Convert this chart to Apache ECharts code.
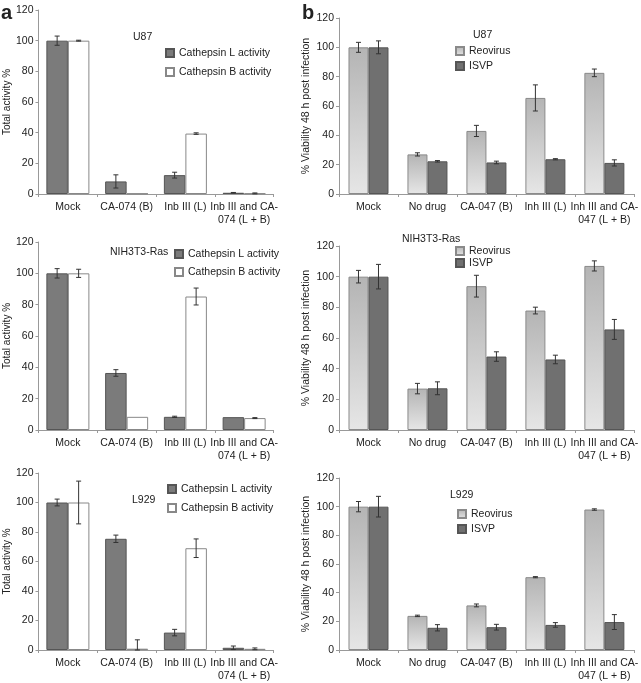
<!DOCTYPE html>
<html>
<head>
<meta charset="utf-8">
<script src="https://cdn.jsdelivr.net/npm/echarts@6/dist/echarts.min.js"></script>
<style>
  html, body { margin: 0; padding: 0; background: #fff; }
  #chart { width: 641px; height: 683px; }
</style>
</head>
<body>
<div id="chart"></div>
<script>
// categories
const catsA = ['Mock', 'CA-074 (B)', 'Inb III (L)', 'Inb III and CA-\n074 (L + B)'];
const catsB = ['Mock', 'No drug', 'CA-047 (B)', 'Inh III (L)', 'Inh III and CA-\n047 (L + B)'];

// panel a: cathepsin activity (%)
const u87L = [100, 8.2, 12.3, 0.8];
const u87LErr = [3, 4.3, 1.9, 0.2];
const u87B = [100, 0.3, 39.4, 0.4];
const u87BErr = [0.3, 0, 0.5, 0.3];
const nihL = [100, 36.4, 8.4, 8.2];
const nihLErr = [3, 2.1, 0.4, 0];
const nihB = [100, 8.4, 85.2, 7.6];
const nihBErr = [2.6, 0, 5.4, 0.3];
const l929L = [100, 75.4, 11.8, 1.5];
const l929LErr = [2.3, 2.5, 2.2, 1.2];
const l929B = [100, 0.9, 69, 0.8];
const l929BErr = [14.5, 6, 6.3, 0.6];

// panel b: % viability 48 h post infection
const u87Reo = [100, 27, 43, 65.5, 82.6];
const u87ReoErr = [3.4, 1.1, 3.8, 8.9, 2.6];
const u87Isvp = [100, 22.3, 21.5, 23.7, 21.2];
const u87IsvpErr = [4.4, 0.5, 0.9, 0.4, 2.1];
const nihReo = [100, 27, 93.8, 77.9, 107];
const nihReoErr = [4.1, 3.4, 7.1, 2.2, 3.3];
const nihIsvp = [100, 27.2, 47.9, 46, 65.6];
const nihIsvpErr = [8, 4.2, 3.1, 2.8, 6.5];
const l929Reo = [100, 23.8, 31.1, 50.8, 98];
const l929ReoErr = [3.6, 0.5, 1, 0.4, 0.5];
const l929Isvp = [100, 15.5, 15.9, 17.5, 19.5];
const l929IsvpErr = [7.2, 2.2, 2, 1.6, 5.2];

const FONT = "'Liberation Sans', Arial, sans-serif";
const BW_A = 21.5;
const BW_B = 20;

const styleL = { color: '#7b7b7b', borderColor: '#555', borderWidth: 1 };
const styleB = { color: '#ffffff', borderColor: '#888', borderWidth: 1 };
const styleReo = {
  color: new echarts.graphic.LinearGradient(0, 0, 0, 1, [
    { offset: 0, color: '#b4b4b4' },
    { offset: 1, color: '#e6e6e6' }
  ]),
  borderColor: '#8a8a8a', borderWidth: 1
};
const styleIsvp = { color: '#707070', borderColor: '#555', borderWidth: 1 };

const chart = echarts.init(document.getElementById('chart'));

const grids = [
  { left: 38.5, top: 10, width: 235, height: 184 },
  { left: 339, top: 18, width: 297, height: 176 },
  { left: 38.5, top: 242, width: 235, height: 188 },
  { left: 339, top: 246, width: 297, height: 184 },
  { left: 38.5, top: 473, width: 235, height: 181 },
  { left: 339, top: 478, width: 297, height: 176 }
];

function xAxisFor(g, cats) {
  return {
    type: 'category', gridIndex: g, data: cats,
    axisLine: { lineStyle: { color: '#999' } },
    axisTick: { show: true, length: 3, lineStyle: { color: '#999' } },
    axisLabel: { interval: 0, fontSize: 10.5, color: '#222', fontFamily: FONT, margin: 7, lineHeight: 13 }
  };
}

function yAxisFor(g, name, nameSize, gap) {
  return {
    type: 'value', gridIndex: g, min: 0, max: 120, interval: 20,
    name: name, nameLocation: 'middle', nameGap: gap,
    nameTextStyle: { fontSize: nameSize, color: '#222', fontFamily: FONT },
    axisLine: { show: true, lineStyle: { color: '#999' } },
    axisTick: { show: true, length: 3, lineStyle: { color: '#999' } },
    splitLine: { show: false },
    axisLabel: { fontSize: 10.5, color: '#222', fontFamily: FONT, margin: 5 }
  };
}

function barSeries(g, name, vals, style, bw) {
  return {
    name: name, type: 'bar', xAxisIndex: g, yAxisIndex: g,
    data: vals, barWidth: bw, barGap: '0%', itemStyle: style
  };
}

// error bars drawn on top of each bar
function errSeries(g, vals, errs, side, bw) {
  return {
    type: 'custom', xAxisIndex: g, yAxisIndex: g, silent: true, z: 10,
    data: vals.map((v, i) => [i, v, errs[i]]),
    renderItem(params, api) {
      const i = api.value(0), v = api.value(1), e = api.value(2);
      if (!e) return;
      const hi = api.coord([i, v + e]);
      const lo = api.coord([i, Math.max(v - e, 0)]);
      const x = hi[0] + side * bw / 2;
      const c = 2.5;
      const st = { stroke: '#333', lineWidth: 1 };
      return {
        type: 'group',
        children: [
          { type: 'line', shape: { x1: x, y1: hi[1], x2: x, y2: lo[1] }, style: st },
          { type: 'line', shape: { x1: x - c, y1: hi[1], x2: x + c, y2: hi[1] }, style: st },
          { type: 'line', shape: { x1: x - c, y1: lo[1], x2: x + c, y2: lo[1] }, style: st }
        ]
      };
    }
  };
}

function legendFor(names, left, top, gap) {
  return {
    data: names, orient: 'vertical', left: left, top: top, itemGap: gap,
    itemWidth: 8, itemHeight: 8, icon: 'rect', padding: 0, selectedMode: false,
    textStyle: { fontSize: 10.5, color: '#222', fontFamily: FONT, lineHeight: 12 }
  };
}

function txt(s, x, y, size, weight) {
  return {
    type: 'text', left: x, top: y,
    style: { text: s, fontSize: size, fontWeight: weight || 'normal', fill: '#222', font: (weight || 'normal') + ' ' + size + 'px ' + FONT }
  };
}

const aName = 'Total activity %';
const bName = '% Viability 48 h post infection';
const lName = 'Cathepsin L activity', bNm = 'Cathepsin B activity';

chart.setOption({
  animation: false,
  grid: grids,
  xAxis: [
    xAxisFor(0, catsA), xAxisFor(1, catsB),
    xAxisFor(2, catsA), xAxisFor(3, catsB),
    xAxisFor(4, catsA), xAxisFor(5, catsB)
  ],
  yAxis: [
    yAxisFor(0, aName, 10, 23), yAxisFor(1, bName, 10.5, 27),
    yAxisFor(2, aName, 10, 23), yAxisFor(3, bName, 10.5, 27),
    yAxisFor(4, aName, 10, 23), yAxisFor(5, bName, 10.5, 27)
  ],
  legend: [
    legendFor([lName, bNm], 165, 47, 7),
    legendFor(['Reovirus', 'ISVP'], 455, 45, 3),
    legendFor([lName, bNm], 174, 248, 6),
    legendFor(['Reovirus', 'ISVP'], 455, 245, 0),
    legendFor([lName, bNm], 167, 483, 7),
    legendFor(['Reovirus', 'ISVP'], 457, 508, 3)
  ],
  graphic: [
    txt('a', 1, 3, 20, 'bold'),
    txt('b', 302, 3, 20, 'bold'),
    txt('U87', 133, 32, 10.5),
    txt('U87', 473, 30, 10.5),
    txt('NIH3T3-Ras', 110, 247, 10.5),
    txt('NIH3T3-Ras', 402, 234, 10.5),
    txt('L929', 132, 495, 10.5),
    txt('L929', 450, 490, 10.5)
  ],
  series: [
    barSeries(0, lName, u87L, styleL, BW_A),
    barSeries(0, bNm, u87B, styleB, BW_A),
    errSeries(0, u87L, u87LErr, -1, BW_A),
    errSeries(0, u87B, u87BErr, 1, BW_A),

    barSeries(1, 'Reovirus', u87Reo, styleReo, BW_B),
    barSeries(1, 'ISVP', u87Isvp, styleIsvp, BW_B),
    errSeries(1, u87Reo, u87ReoErr, -1, BW_B),
    errSeries(1, u87Isvp, u87IsvpErr, 1, BW_B),

    barSeries(2, lName, nihL, styleL, BW_A),
    barSeries(2, bNm, nihB, styleB, BW_A),
    errSeries(2, nihL, nihLErr, -1, BW_A),
    errSeries(2, nihB, nihBErr, 1, BW_A),

    barSeries(3, 'Reovirus', nihReo, styleReo, BW_B),
    barSeries(3, 'ISVP', nihIsvp, styleIsvp, BW_B),
    errSeries(3, nihReo, nihReoErr, -1, BW_B),
    errSeries(3, nihIsvp, nihIsvpErr, 1, BW_B),

    barSeries(4, lName, l929L, styleL, BW_A),
    barSeries(4, bNm, l929B, styleB, BW_A),
    errSeries(4, l929L, l929LErr, -1, BW_A),
    errSeries(4, l929B, l929BErr, 1, BW_A),

    barSeries(5, 'Reovirus', l929Reo, styleReo, BW_B),
    barSeries(5, 'ISVP', l929Isvp, styleIsvp, BW_B),
    errSeries(5, l929Reo, l929ReoErr, -1, BW_B),
    errSeries(5, l929Isvp, l929IsvpErr, 1, BW_B)
  ]
});
</script>
</body>
</html>
